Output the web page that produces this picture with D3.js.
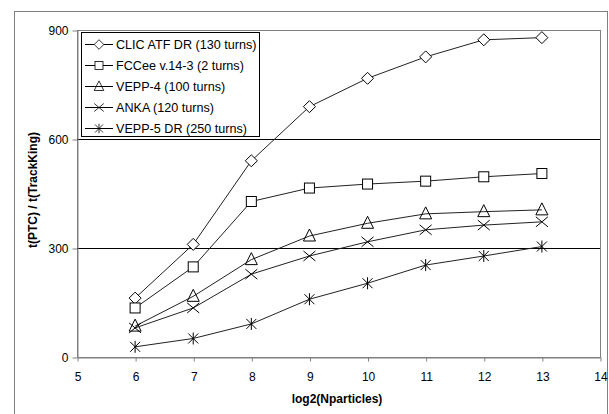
<!DOCTYPE html>
<html>
<head>
<meta charset="utf-8">
<script src="https://cdn.jsdelivr.net/npm/d3@7"></script>
<style>
  body { margin: 0; background: #fff; }
  svg { display: block; font-family: "Liberation Sans", Arial, sans-serif; }
</style>
</head>
<body>
<svg id="chart" width="609" height="414"></svg>
<script>
// data
var xValues = [6, 7, 8, 9, 10, 11, 12, 13];
var clic   = [162, 310, 540, 689, 767, 826, 873, 879];
var fccee  = [135, 248, 428, 465, 476, 484, 496, 505];
var vepp4  = [85, 167, 268, 333, 368, 394, 400, 405];
var anka   = [80, 135, 228, 278, 317, 350, 363, 372];
var vepp5  = [28, 51, 91, 159, 203, 253, 278, 304];
var seriesNames = ["CLIC ATF DR (130 turns)", "FCCee v.14-3 (2 turns)", "VEPP-4 (100 turns)", "ANKA (120 turns)", "VEPP-5 DR (250 turns)"];
var seriesMarkers = ["diamond", "square", "triangle", "cross", "star"];
var xTicks = [5, 6, 7, 8, 9, 10, 11, 12, 13, 14];
var yTicks = [0, 300, 600, 900];

var series = [clic, fccee, vepp4, anka, vepp5].map(function(vals, i) {
  return { name: seriesNames[i], marker: seriesMarkers[i],
           points: vals.map(function(v, j) { return [xValues[j], v]; }) };
});

var svg = d3.select("#chart");
var plot = { left: 77, top: 30, right: 600, bottom: 357 };

// outer chart frame
svg.append("rect")
    .attr("x", 14.5).attr("y", 11.5)
    .attr("width", 593).attr("height", 410)
    .attr("fill", "none").attr("stroke", "#808080");

var x = d3.scaleLinear().domain([5, 14]).range([plot.left, plot.right]);
var y = d3.scaleLinear().domain([0, 900]).range([plot.bottom, plot.top]);

// plot area border
svg.append("rect")
    .attr("x", plot.left + 0.5).attr("y", plot.top + 0.5)
    .attr("width", plot.right - plot.left).attr("height", plot.bottom - plot.top)
    .attr("fill", "none").attr("stroke", "#808080");

// gridlines
svg.append("g").selectAll("line")
    .data(yTicks.filter(function(d) { return d > 0 && d < 900; }))
  .enter().append("line")
    .attr("x1", plot.left).attr("x2", plot.right)
    .attr("y1", function(d) { return Math.round(y(d)) + 0.5; })
    .attr("y2", function(d) { return Math.round(y(d)) + 0.5; })
    .attr("stroke", "#000");

// axes
var xAxis = svg.append("g")
    .attr("transform", "translate(0.5," + (plot.bottom + 0.5) + ")")
    .call(d3.axisBottom(x).tickValues(xTicks).tickSize(4).tickPadding(11).tickSizeOuter(0));
var yAxis = svg.append("g")
    .attr("transform", "translate(" + (plot.left + 0.5) + ",0.5)")
    .call(d3.axisLeft(y).tickValues(yTicks).tickSize(5).tickPadding(4).tickSizeOuter(0));

[xAxis, yAxis].forEach(function(ax) {
  ax.select(".domain").attr("stroke", "#808080");
  ax.selectAll(".tick line").attr("stroke", "#808080");
  ax.selectAll("text").attr("font-size", 12).attr("fill", "#000")
    .attr("font-family", "Liberation Sans, Arial, sans-serif");
});

// axis titles
svg.append("text")
    .attr("x", 337).attr("y", 403)
    .attr("text-anchor", "middle")
    .attr("font-size", 12).attr("font-weight", "bold")
    .text("log2(Nparticles)");
svg.append("text")
    .attr("transform", "translate(37,190) rotate(-90)")
    .attr("text-anchor", "middle")
    .attr("font-size", 12).attr("font-weight", "bold")
    .text("t(PTC) / t(TrackKing)");

// marker drawing
function drawMarker(g, type) {
  var s = 5;
  if (type === "diamond") {
    g.append("path").attr("d", "M0,-6L6,0L0,6L-6,0Z").attr("fill", "#fff").attr("stroke", "#000");
  } else if (type === "square") {
    g.append("rect").attr("x", -s).attr("y", -s).attr("width", 2 * s).attr("height", 2 * s)
      .attr("fill", "#fff").attr("stroke", "#000");
  } else if (type === "triangle") {
    g.append("path").attr("d", "M0,-7L6,5L-6,5Z").attr("fill", "none").attr("stroke", "#000");
  } else if (type === "cross") {
    g.append("path").attr("d", "M-6,-5L6,5M-6,5L6,-5").attr("stroke", "#000");
  } else if (type === "star") {
    g.append("path").attr("d", "M-5,-5L5,5M-5,5L5,-5M0,-6L0,6").attr("stroke", "#000");
  }
}

var line = d3.line()
    .x(function(d) { return x(d[0]); })
    .y(function(d) { return y(d[1]); });

var seriesG = svg.append("g").selectAll("g")
    .data(series)
  .enter().append("g");

seriesG.append("path")
    .attr("d", function(d) { return line(d.points); })
    .attr("fill", "none").attr("stroke", "#222").attr("stroke-width", 1);

seriesG.each(function(s) {
  d3.select(this).selectAll("g.pt")
      .data(s.points)
    .enter().append("g")
      .attr("class", "pt")
      .attr("transform", function(d) { return "translate(" + x(d[0]) + "," + y(d[1]) + ")"; })
      .each(function() { drawMarker(d3.select(this), s.marker); });
});

// legend
var legend = svg.append("g");
legend.append("rect")
    .attr("x", 81.5).attr("y", 32.5)
    .attr("width", 178).attr("height", 104)
    .attr("fill", "#fff").attr("stroke", "#000");

var rows = legend.selectAll("g.row")
    .data(series)
  .enter().append("g")
    .attr("class", "row")
    .attr("transform", function(d, i) { return "translate(0," + (44 + i * 21) + ")"; });

rows.append("line")
    .attr("x1", 85).attr("x2", 113).attr("y1", 0.5).attr("y2", 0.5)
    .attr("stroke", "#000");
rows.append("g")
    .attr("transform", "translate(99,0.5) scale(0.8)")
    .each(function(d) { drawMarker(d3.select(this), d.marker); });
rows.append("text")
    .attr("x", 116).attr("y", 5)
    .attr("font-size", 12.6)
    .text(function(d) { return d.name; });
</script>
</body>
</html>
